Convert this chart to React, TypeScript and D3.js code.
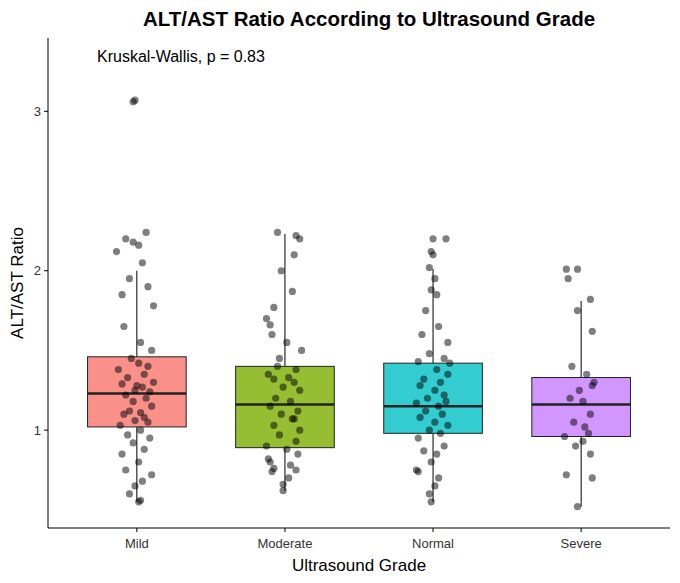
import * as d3 from 'd3';

const grades = ['Mild', 'Moderate', 'Normal', 'Severe'];
const fills = ['#F8766D', '#7CAE00', '#00BFC4', '#C77CFF'];
const yTicks = [1, 2, 3];

// box stats: [lowWhisker, q1, median, q3, highWhisker]
const boxStats = [
  [0.55, 1.02, 1.23, 1.46, 2.0],
  [0.62, 0.89, 1.16, 1.4, 2.23],
  [0.55, 0.98, 1.15, 1.42, 2.01],
  [0.52, 0.96, 1.16, 1.33, 1.81],
];

// points: [value, jitter (fraction of half-width)]
const mildPts = [
  [3.06, -0.1], [3.07, -0.05], [2.24, 0.25], [2.2, -0.3], [2.18, -0.1], [2.16, 0.05], [2.12, -0.55],
  [2.05, 0.15], [1.95, -0.2], [1.9, 0.3], [1.85, -0.4], [1.78, 0.45], [1.65, -0.35], [1.55, 0.1],
  [1.5, 0.4], [1.45, -0.15], [1.42, 0.05], [1.4, 0.3], [1.38, -0.5], [1.35, 0.2], [1.33, -0.25],
  [1.3, 0.45], [1.29, -0.4], [1.28, 0.0], [1.27, 0.15], [1.25, -0.05], [1.24, 0.35], [1.22, -0.3],
  [1.2, 0.25], [1.18, -0.1], [1.15, 0.4], [1.12, -0.2], [1.11, 0.1], [1.1, -0.35], [1.08, 0.2],
  [1.06, -0.05], [1.05, 0.3], [1.03, -0.45], [1.0, 0.1], [0.97, -0.25], [0.95, 0.35], [0.92, -0.1],
  [0.88, 0.2], [0.85, -0.4], [0.8, 0.05], [0.75, -0.3], [0.72, 0.4], [0.68, 0.15], [0.65, -0.05],
  [0.6, -0.2], [0.56, 0.1], [0.55, 0.05],
];
const moderatePts = [
  [2.24, -0.2], [2.22, 0.3], [2.2, 0.4], [2.1, 0.25], [2.0, -0.1], [1.87, 0.2], [1.77, -0.3],
  [1.7, -0.5], [1.66, -0.4], [1.6, -0.35], [1.55, 0.05], [1.5, 0.45], [1.45, -0.15], [1.4, -0.2],
  [1.38, 0.3], [1.35, -0.45], [1.33, 0.1], [1.32, -0.3], [1.3, 0.25], [1.27, -0.05], [1.25, 0.4],
  [1.2, -0.25], [1.18, 0.15], [1.15, -0.4], [1.12, 0.35], [1.1, -0.1], [1.07, 0.2], [1.07, 0.25],
  [1.03, -0.3], [1.0, 0.4], [0.97, -0.15], [0.93, 0.3], [0.9, -0.5], [0.88, 0.05], [0.85, 0.35],
  [0.82, -0.45], [0.8, -0.4], [0.78, 0.15], [0.76, -0.3], [0.75, 0.3], [0.74, -0.35], [0.7, 0.1],
  [0.66, -0.05], [0.62, -0.05],
];
const normalPts = [
  [2.2, 0.0], [2.2, 0.35], [2.12, -0.05], [2.1, 0.0], [2.02, -0.1], [1.95, 0.05], [1.88, -0.05],
  [1.85, 0.1], [1.75, -0.2], [1.65, 0.15], [1.6, -0.3], [1.55, 0.4], [1.48, -0.1], [1.45, 0.3],
  [1.43, -0.4], [1.42, 0.45], [1.38, 0.1], [1.35, 0.4], [1.32, -0.25], [1.3, 0.2], [1.28, -0.35],
  [1.25, 0.05], [1.22, 0.3], [1.2, -0.15], [1.18, 0.35], [1.17, -0.45], [1.15, 0.15], [1.12, -0.2],
  [1.1, 0.25], [1.08, -0.35], [1.05, 0.05], [1.03, 0.4], [1.0, -0.1], [0.98, 0.2], [0.95, -0.4],
  [0.9, 0.3], [0.87, -0.25], [0.85, 0.1], [0.8, -0.05], [0.75, -0.45], [0.74, -0.4], [0.7, 0.15],
  [0.65, 0.05], [0.6, -0.1], [0.55, -0.05],
];
const severePts = [
  [2.01, -0.4], [2.01, -0.1], [1.95, -0.35], [1.82, 0.25], [1.75, -0.1], [1.62, 0.3], [1.4, -0.25],
  [1.35, 0.15], [1.3, 0.35], [1.28, 0.3], [1.25, -0.05], [1.2, -0.3], [1.18, 0.05], [1.1, 0.25],
  [1.05, -0.2], [1.02, 0.1], [0.98, 0.2], [0.96, -0.45], [0.93, 0.05], [0.9, -0.15], [0.85, 0.25],
  [0.72, -0.4], [0.7, 0.3], [0.52, -0.1],
];
const points = [mildPts, moderatePts, normalPts, severePts];

const W = 680, H = 583;
const margin = { top: 38, right: 10, bottom: 55, left: 48 };

export default function App() {
  const x = d3.scaleBand().domain(grades).range([margin.left, W - margin.right]).paddingInner(0.334).paddingOuter(0.267);
  const y = d3.scaleLinear().domain([0.386, 3.46]).range([H - margin.bottom, margin.top]);
  const bw = x.bandwidth();
  const bottom = H - margin.bottom;
  return (
    <svg width={W} height={H} style={{ position: 'absolute', left: 0, top: 0, fontFamily: 'Liberation Sans, Arial, sans-serif' }}>
      <text x={(margin.left + W - margin.right) / 2 + 10} y={26} textAnchor="middle" fontSize={20.5} fontWeight="bold">
        ALT/AST Ratio According to Ultrasound Grade
      </text>
      <text x={97} y={62} fontSize={16}>Kruskal-Wallis, p = 0.83</text>
      {grades.map((g, i) => {
        const [lo, q1, med, q3, hi] = boxStats[i];
        const cx = x(g)! + bw / 2;
        return (
          <g key={g}>
            <line x1={cx} x2={cx} y1={y(lo)} y2={y(q1)} stroke="black" />
            <line x1={cx} x2={cx} y1={y(q3)} y2={y(hi)} stroke="black" />
            <rect x={x(g)} y={y(q3)} width={bw} height={y(q1) - y(q3)} fill={fills[i]} fillOpacity={0.8} stroke="#222" />
            <line x1={x(g)} x2={x(g)! + bw} y1={y(med)} y2={y(med)} stroke="#222" strokeWidth={2.5} />
            {points[i].map(([v, j], k) => (
              <circle key={k} cx={cx + j * bw / 2 * 0.75} cy={y(v)} r={3.6} fill="black" fillOpacity={0.5} />
            ))}
          </g>
        );
      })}
      <line x1={margin.left} x2={margin.left} y1={margin.top} y2={bottom} stroke="black" />
      <line x1={margin.left} x2={W - margin.right} y1={bottom} y2={bottom} stroke="black" />
      {yTicks.map(t => (
        <g key={t}>
          <line x1={margin.left - 4} x2={margin.left} y1={y(t)} y2={y(t)} stroke="black" />
          <text x={margin.left - 7} y={y(t) + 4.5} textAnchor="end" fontSize={13} fill="#333">{t}</text>
        </g>
      ))}
      {grades.map(g => (
        <g key={g}>
          <line x1={x(g)! + bw / 2} x2={x(g)! + bw / 2} y1={bottom} y2={bottom + 4} stroke="black" />
          <text x={x(g)! + bw / 2} y={bottom + 20} textAnchor="middle" fontSize={13} fill="#333">{g}</text>
        </g>
      ))}
      <text x={(margin.left + W - margin.right) / 2} y={571} textAnchor="middle" fontSize={17}>Ultrasound Grade</text>
      <text transform={`translate(23,${(margin.top + bottom) / 2}) rotate(-90)`} textAnchor="middle" fontSize={17}>ALT/AST Ratio</text>
    </svg>
  );
}
